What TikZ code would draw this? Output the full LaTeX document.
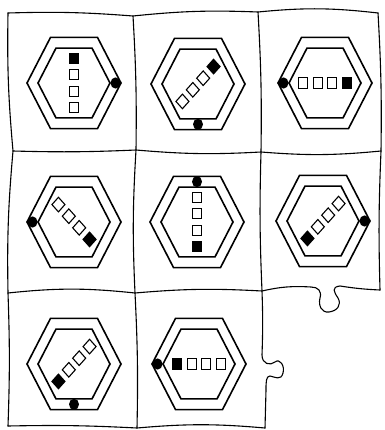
\documentclass[tikz,border=0pt]{standalone}
\usetikzlibrary{calc}
\tikzset{
  gridline/.style={line width=1.1pt, line join=round, line cap=round},
  hexline/.style={line width=1.6pt, line join=miter},
  sqopen/.style={draw=black, fill=white, line width=1.1pt},
  sqfull/.style={draw=black, fill=black, line width=1.1pt},
  dotmark/.style={fill=black},
}
\newcommand{\hexcell}[6]{% name, cx, cy, square direction, dot angle, dot radius
  \begin{scope}[shift={(#2,#3)}, yscale=-1.12]
    \coordinate (#1) at (0,0);
    \draw[hexline] (0:47) -- (60:47) -- (120:47) -- (180:47) -- (240:47) -- (300:47) -- cycle;
    \draw[hexline] (0:36) -- (60:36) -- (120:36) -- (180:36) -- (240:36) -- (300:36) -- cycle;
    \begin{scope}[rotate=-#4]
      \foreach \dd in {-22,-7.33,7.33}
        \draw[sqopen] (\dd-4.6,-4.6) rectangle (\dd+4.6,4.6);
      \draw[sqfull] (22-4.6,-4.6) rectangle (22+4.6,4.6);
    \end{scope}
    \fill[dotmark] (#5:#6) circle (5);
  \end{scope}}
\begin{document}
\begin{tikzpicture}[x=1pt, y=-1pt]
  \useasboundingbox (0,0) rectangle (384,430);
  \fill[white] (0,0) rectangle (384,430);
  % grid corners
  \coordinate (g00) at (8,13);   \coordinate (g01) at (133,16);
  \coordinate (g02) at (258,12); \coordinate (g03) at (378,13);
  \coordinate (g10) at (13,151); \coordinate (g11) at (136,150);
  \coordinate (g12) at (261,152);\coordinate (g13) at (381,151);
  \coordinate (g20) at (8,293);  \coordinate (g21) at (135,293);
  \coordinate (g22) at (262,291);\coordinate (g23) at (380,290);
  \coordinate (g30) at (8,426);  \coordinate (g31) at (137,428);
  \coordinate (g32) at (265,428);
  \coordinate (t1) at (311,287); \coordinate (t2) at (340,286);
  \coordinate (v1) at (262,355); \coordinate (v2) at (266,390);
  % horizontal edges
  \draw[gridline] (g00) to[bend left=3] (g01) to[bend left=4] (g02) to[bend left=6] (g03);
  \draw[gridline] (g10) to[bend right=2] (g11) to[bend right=4] (g12) to[bend right=5] (g13);
  \draw[gridline] (g20) to[bend left=6] (g21) to[bend left=4] (g22) to[bend left=8] (t1)
    .. controls (318,287) and (322,291) .. (320,298)
    .. controls (318,306) and (322,313) .. (329,312)
    .. controls (337,311) and (342,305) .. (338,298)
    .. controls (334,292) and (331,287) .. (t2)
    to[bend right=3] (g23);
  \draw[gridline] (g30) to[bend left=2] (g31) to[bend left=5] (g32);
  % vertical edges
  \draw[gridline] (g00) to[bend right=3] (g10) to[bend right=3] (g20) to[bend left=2] (g30);
  \draw[gridline] (g01) to[bend left=2] (g11) to[bend right=3] (g21) to[bend left=2] (g31);
  \draw[gridline] (g02) to[bend left=2] (g12) to[bend right=2] (g22) to[bend left=2] (v1)
    .. controls (262,364) and (270,366) .. (275,362)
    .. controls (280,358) and (285,366) .. (283,373)
    .. controls (281,381) and (275,377) .. (270,376)
    .. controls (266,376) and (266,382) .. (v2)
    -- (g32);
  \draw[gridline] (g03) to[bend left=2] (g13) to[bend right=2] (g23);
  % cells
  \hexcell{c1}{74}{83}{90}{0}{41.5}
  \hexcell{c2}{198}{84}{45}{270}{36}
  \hexcell{c3}{325}{83}{0}{180}{41.5}
  \hexcell{c4}{74}{222}{-45}{180}{41.5}
  \hexcell{c5}{197}{222}{270}{90}{36}
  \hexcell{c6}{323}{221}{225}{0}{41.5}
  \hexcell{c7}{74}{364}{225}{270}{36}
  \hexcell{c8}{199}{364}{180}{180}{41.5}
\end{tikzpicture}
\end{document}
